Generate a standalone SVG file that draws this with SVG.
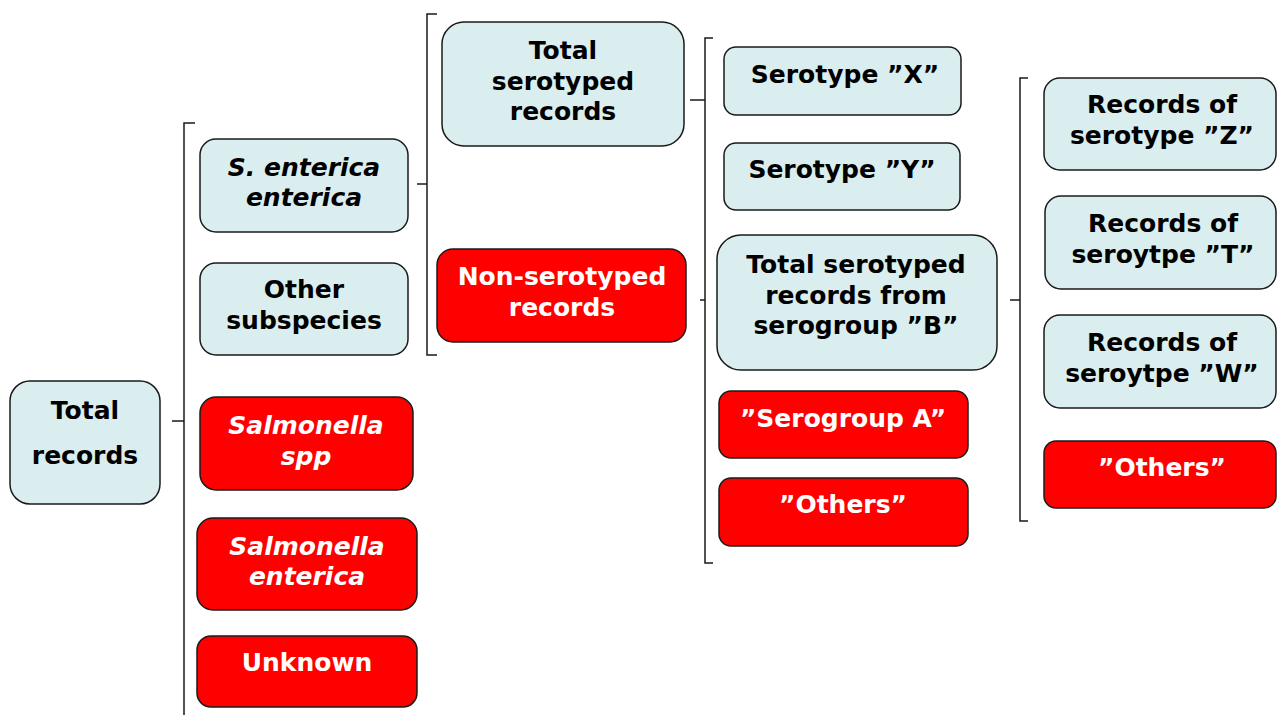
<svg xmlns="http://www.w3.org/2000/svg" width="1277" height="715" viewBox="0 0 1277 715">
<style>
.l{fill:#daedef;stroke:#1a1a1a;stroke-width:1.5}
.r{fill:#ff0000;stroke:#1a1a1a;stroke-width:1.5}
text{font-family:"DejaVu Sans",Verdana,sans-serif;font-weight:bold;font-size:25px;text-anchor:middle}
.k{fill:#000}
.w{fill:#fff}
.i{font-style:italic}
.c{fill:none;stroke:#1a1a1a;stroke-width:1.5}
</style>
<rect width="1277" height="715" fill="#fff"/>
<g id="connectors">
<path class="c" d="M195,123 H184 V715 M172,421 H184"/>
<path class="c" d="M437,14 H427 V355 H437 M417,184 H427"/>
<path class="c" d="M713,38 H705 V563 H713 M690,100 H705 M700,300 H705"/>
<path class="c" d="M1028,78 H1020 V521 H1028 M1010,300 H1020"/>
</g>
<g id="total-records"><rect class="l" x="10" y="381" width="150" height="123" rx="20"/><text class="k" x="85" y="419">Total</text><text class="k" x="85" y="464">records</text></g>
<g id="s-enterica-enterica"><rect class="l" x="200" y="139" width="208" height="93" rx="16"/><text class="k i" x="304" y="176">S. enterica</text><text class="k i" x="304" y="206">enterica</text></g>
<g id="other-subspecies"><rect class="l" x="200" y="263" width="208" height="92" rx="16"/><text class="k" x="304" y="298">Other</text><text class="k" x="304" y="329">subspecies</text></g>
<g id="salmonella-spp"><rect class="r" x="200" y="397" width="213" height="93" rx="16"/><text class="w i" x="306" y="434">Salmonella</text><text class="w i" x="306" y="465">spp</text></g>
<g id="salmonella-enterica"><rect class="r" x="197" y="518" width="220" height="92" rx="16"/><text class="w i" x="307" y="555">Salmonella</text><text class="w i" x="307" y="585">enterica</text></g>
<g id="unknown"><rect class="r" x="197" y="636" width="220" height="71" rx="14"/><text class="w" x="307" y="671">Unknown</text></g>
<g id="total-serotyped"><rect class="l" x="442" y="22" width="242" height="124" rx="22"/><text class="k" x="563" y="59">Total</text><text class="k" x="563" y="90">serotyped</text><text class="k" x="563" y="120">records</text></g>
<g id="non-serotyped"><rect class="r" x="437" y="249" width="249" height="93" rx="16"/><text class="w" x="562" y="285">Non-serotyped</text><text class="w" x="562" y="316">records</text></g>
<g id="serotype-x"><rect class="l" x="724" y="47" width="237" height="68" rx="12"/><text class="k" x="845" y="83">Serotype ”X”</text></g>
<g id="serotype-y"><rect class="l" x="724" y="143" width="236" height="67" rx="12"/><text class="k" x="842" y="178">Serotype ”Y”</text></g>
<g id="serogroup-b"><rect class="l" x="717" y="235" width="280" height="135" rx="24"/><text class="k" x="856" y="273">Total serotyped</text><text class="k" x="856" y="304">records from</text><text class="k" x="856" y="334">serogroup ”B”</text></g>
<g id="serogroup-a"><rect class="r" x="719" y="391" width="249" height="67" rx="12"/><text class="w" x="843" y="427">”Serogroup A”</text></g>
<g id="others-mid"><rect class="r" x="719" y="478" width="249" height="68" rx="12"/><text class="w" x="843" y="513">”Others”</text></g>
<g id="serotype-z"><rect class="l" x="1044" y="78" width="232" height="92" rx="16"/><text class="k" x="1162" y="113">Records of</text><text class="k" x="1162" y="144">serotype ”Z”</text></g>
<g id="seroytpe-t"><rect class="l" x="1045" y="196" width="231" height="93" rx="16"/><text class="k" x="1163" y="232">Records of</text><text class="k" x="1163" y="263">seroytpe ”T”</text></g>
<g id="seroytpe-w"><rect class="l" x="1044" y="315" width="232" height="93" rx="16"/><text class="k" x="1162" y="351">Records of</text><text class="k" x="1162" y="382">seroytpe ”W”</text></g>
<g id="others-right"><rect class="r" x="1044" y="441" width="232" height="67" rx="12"/><text class="w" x="1162" y="476">”Others”</text></g>
</svg>
